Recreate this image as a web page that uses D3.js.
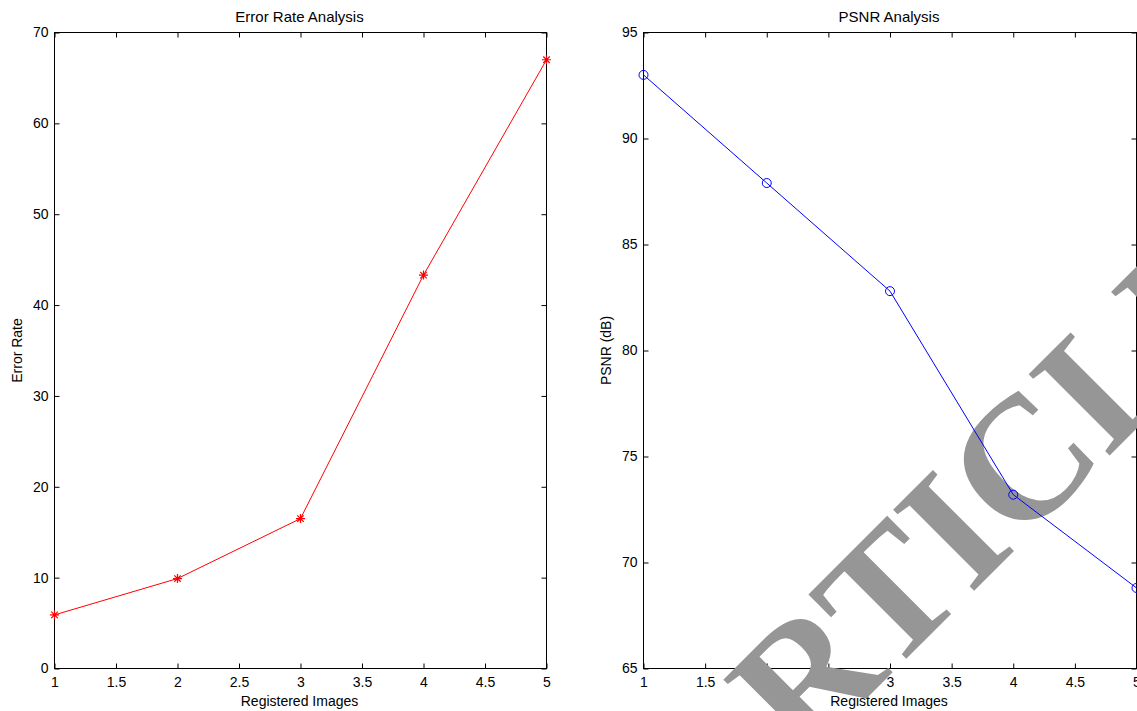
<!DOCTYPE html>
<html>
<head>
<meta charset="utf-8">
<script src="https://cdn.jsdelivr.net/npm/d3@7"></script>
<style>
  html, body { margin: 0; padding: 0; background: #fff; }
  svg { display: block; }
  .label { font-family: "Liberation Sans", Arial, Helvetica, sans-serif; }
</style>
</head>
<body>
<svg id="chart" width="1137" height="711"></svg>
<script>
// Registered image index shared by both panels
const registeredImages = [1, 2, 3, 4, 5];
// Error rate per registered image
const errorRate = [5.9, 9.9, 16.5, 43.3, 67.0];
// PSNR (dB) per registered image
const psnr = [93.0, 87.9, 82.8, 73.2, 68.8];

const xTicks = [1, 1.5, 2, 2.5, 3, 3.5, 4, 4.5, 5];
const xTickLabels = ["1", "1.5", "2", "2.5", "3", "3.5", "4", "4.5", "5"];
const errorTicks = [0, 10, 20, 30, 40, 50, 60, 70];
const psnrTicks = [65, 70, 75, 80, 85, 90, 95];

const watermarkText = "ARTICLE";

const svg = d3.select("#chart");
const sans = "'Liberation Sans', Arial, Helvetica, sans-serif";

// MATLAB-style asterisk marker: a plus sign overlaid with a cross
const asterisk = {
  draw(ctx, size) {
    const r = Math.sqrt(size) / 2;
    const d = r * 0.72;
    ctx.moveTo(-r, 0); ctx.lineTo(r, 0);
    ctx.moveTo(0, -r); ctx.lineTo(0, r);
    ctx.moveTo(-d, -d); ctx.lineTo(d, d);
    ctx.moveTo(-d, d); ctx.lineTo(d, -d);
  }
};

const panels = [
  {
    title: "Error Rate Analysis", ylabel: "Error Rate",
    xRange: [54.5, 546.5], yDomain: [0, 70], yTicks: errorTicks,
    values: errorRate, color: "#ff0000", marker: "star"
  },
  {
    title: "PSNR Analysis", ylabel: "PSNR (dB)",
    xRange: [643.5, 1136.5], yDomain: [65, 95], yTicks: psnrTicks,
    values: psnr, color: "#0000ff", marker: "circle"
  }
];

const plotTop = 32.5, plotBottom = 668.5;
const tickLen = 5;

panels.forEach(p => {
  p.x = d3.scaleLinear().domain([1, 5]).range(p.xRange);
  p.y = d3.scaleLinear().domain(p.yDomain).range([plotBottom, plotTop]);
});

// Frames, ticks and text
panels.forEach(p => {
  const g = svg.append("g");
  const [x0, x1] = p.xRange;
  const fmt = d => xTickLabels[xTicks.indexOf(d)];

  const styleAxis = sel => {
    sel.select(".domain").remove();
    sel.selectAll(".tick line").attr("stroke", "#000").attr("stroke-width", 1);
    sel.selectAll(".tick text").attr("fill", "#000")
      .style("font-size", "14px").style("font-family", sans);
  };

  g.append("g").attr("transform", `translate(0,${plotBottom})`)
    .call(d3.axisBottom(p.x).tickValues(xTicks).tickFormat(fmt)
      .tickSizeInner(-tickLen).tickSizeOuter(0).tickPadding(9))
    .call(styleAxis);
  g.append("g").attr("transform", `translate(0,${plotTop})`)
    .call(d3.axisTop(p.x).tickValues(xTicks).tickFormat("")
      .tickSizeInner(-tickLen).tickSizeOuter(0))
    .call(styleAxis);
  g.append("g").attr("transform", `translate(${x0},0)`)
    .call(d3.axisLeft(p.y).tickValues(p.yTicks).tickFormat(d3.format("d"))
      .tickSizeInner(-tickLen).tickSizeOuter(0).tickPadding(6))
    .call(styleAxis);
  g.append("g").attr("transform", `translate(${x1},0)`)
    .call(d3.axisRight(p.y).tickValues(p.yTicks).tickFormat("")
      .tickSizeInner(-tickLen).tickSizeOuter(0))
    .call(styleAxis);

  g.append("rect")
    .attr("x", x0).attr("y", plotTop)
    .attr("width", x1 - x0).attr("height", plotBottom - plotTop)
    .attr("fill", "none").attr("stroke", "#000").attr("stroke-width", 1);

  const cx = (x0 + x1) / 2;
  g.append("text").attr("class", "label").attr("x", cx - 1).attr("y", 21.5)
    .attr("text-anchor", "middle").style("font-size", "15px").attr("fill", "#000")
    .text(p.title);
  g.append("text").attr("class", "label").attr("x", cx - 1).attr("y", 706)
    .attr("text-anchor", "middle").style("font-size", "14px").attr("fill", "#000")
    .text("Registered Images");
  g.append("text").attr("class", "label")
    .attr("transform", `translate(${x0 - 32.5},${(plotTop + plotBottom) / 2}) rotate(-90)`)
    .attr("text-anchor", "middle").style("font-size", "14px").attr("fill", "#000")
    .text(p.ylabel);
});

// Diagonal watermark lettering
const wm = svg.append("g");
const wmText = wm.append("text")
  .style("font-family", "'Liberation Serif', 'Times New Roman', serif")
  .style("font-weight", "bold")
  .style("font-size", "175px")
  .attr("fill", "#969696")
  .text(watermarkText);
const iStart = wmText.node().getStartPositionOfChar(3);
const iEnd = wmText.node().getEndPositionOfChar(3);
const iMid = (iStart.x + iEnd.x) / 2;
wm.attr("transform", `translate(994,571) rotate(-45) translate(${-iMid},0)`);

// Data series
panels.forEach(p => {
  const g = svg.append("g");
  const pts = registeredImages.map((d, i) => [d, p.values[i]]);
  g.append("path")
    .datum(pts)
    .attr("fill", "none")
    .attr("stroke", p.color)
    .attr("stroke-width", 1)
    .attr("d", d3.line().x(d => p.x(d[0])).y(d => p.y(d[1])));

  const m = g.selectAll(".marker").data(pts).join("path")
    .attr("class", "marker")
    .attr("transform", d => `translate(${p.x(d[0])},${p.y(d[1])})`);
  if (p.marker === "star") {
    m.attr("d", d3.symbol().type(asterisk).size(81)())
      .attr("fill", "none").attr("stroke", p.color).attr("stroke-width", 1.2);
  } else {
    m.attr("d", d3.symbol().type(d3.symbolCircle).size(Math.PI * 4.5 * 4.5)())
      .attr("fill", "none").attr("stroke", p.color).attr("stroke-width", 1);
  }
});
</script>
</body>
</html>
